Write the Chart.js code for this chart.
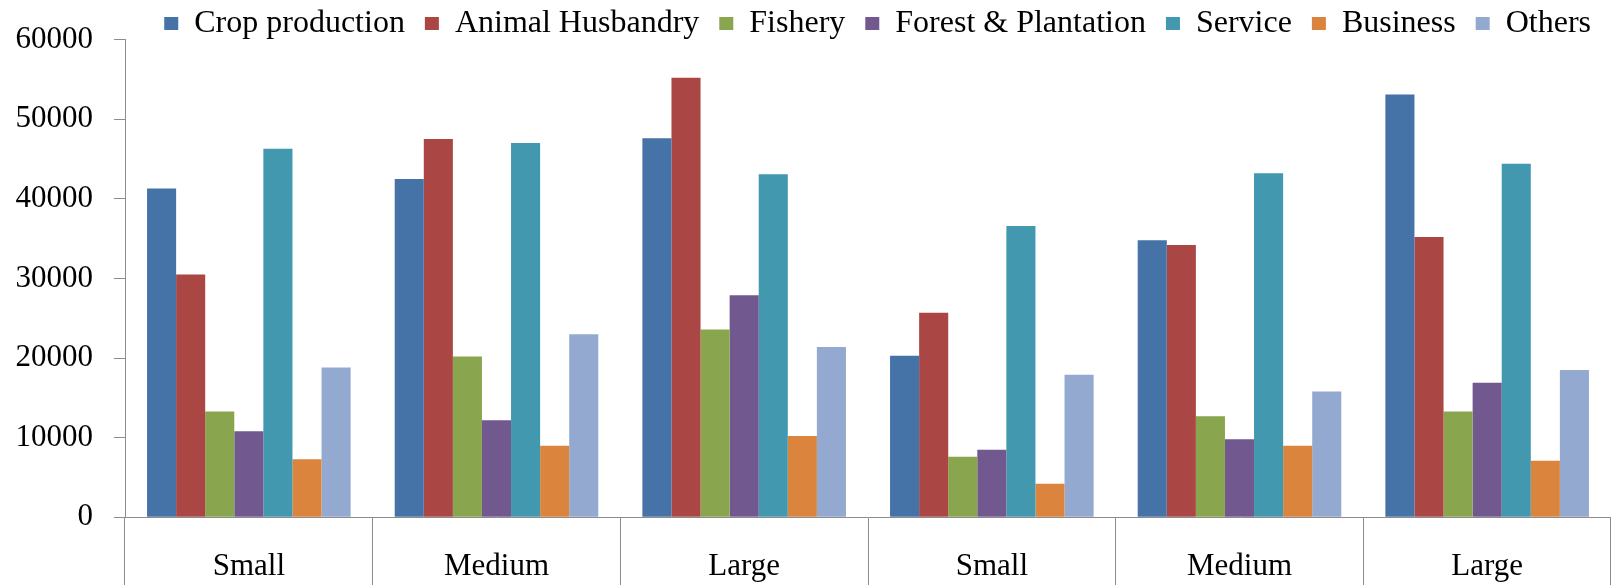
<!DOCTYPE html>
<html>
<head>
<meta charset="utf-8">
<script src="https://cdn.jsdelivr.net/npm/chart.js@4/dist/chart.umd.min.js"></script>
<style>
  html, body { margin: 0; padding: 0; background: #ffffff; }
  #wrap { width: 1611px; height: 585px; }
</style>
</head>
<body>
<div id="wrap"><canvas id="c" width="1611" height="585"></canvas></div>
<script>
// Farm size categories (two groups of Small / Medium / Large)
const categories = ['Small', 'Medium', 'Large', 'Small', 'Medium', 'Large'];

// Income by source
const cropProduction   = [41300, 42500, 47600, 20300, 34800, 53100];
const animalHusbandry  = [30500, 47500, 55200, 25700, 34200, 35200];
const fishery          = [13300, 20200, 23600,  7600, 12700, 13300];
const forestPlantation = [10800, 12200, 27900,  8500,  9800, 16900];
const service          = [46300, 47000, 43100, 36600, 43200, 44400];
const business         = [ 7300,  9000, 10200,  4200,  9000,  7100];
const others           = [18800, 23000, 21400, 17900, 15800, 18500];

// Value axis
const yMin = 0;
const yMax = 60000;
const yStep = 10000;

const seriesNames  = ['Crop production', 'Animal Husbandry', 'Fishery', 'Forest & Plantation', 'Service', 'Business', 'Others'];
const seriesValues = [cropProduction, animalHusbandry, fishery, forestPlantation, service, business, others];
const seriesColors = ['#4572A7', '#AA4643', '#89A54E', '#71588F', '#4198AF', '#DB843D', '#93A9CF'];

const axisColor = '#8c8c8c';
const fontFamily = '"Liberation Serif", "Times New Roman", serif';

// Keep the legend band to a fixed height so the plot starts right below it
const legendBand = {
  id: 'legendBand',
  beforeInit(chart) {
    const fit = chart.legend.fit;
    chart.legend.fit = function () {
      fit.call(this);
      this.height = 52;
    };
  }
};

new Chart(document.getElementById('c'), {
  type: 'bar',
  data: {
    labels: categories,
    datasets: seriesNames.map((name, i) => ({
      label: name,
      data: seriesValues[i],
      backgroundColor: seriesColors[i],
      borderWidth: 0,
      categoryPercentage: 0.822,
      barPercentage: 1.0
    }))
  },
  options: {
    responsive: false,
    animation: false,
    devicePixelRatio: 1,
    layout: { padding: { top: -14.5, left: 0, right: 0, bottom: 0 } },
    plugins: {
      tooltip: { enabled: false },
      legend: {
        position: 'top',
        align: 'end',
        labels: {
          boxWidth: 14,
          boxHeight: 13,
          padding: 20,
          color: '#000000',
          font: { family: fontFamily, size: 32 }
        }
      }
    },
    scales: {
      x: {
        offset: true,
        grid: {
          display: true,
          offset: true,
          drawOnChartArea: false,
          drawTicks: true,
          tickLength: 68,
          color: axisColor,
          lineWidth: 1
        },
        border: { display: true, color: axisColor, width: 1 },
        ticks: {
          color: '#000000',
          padding: -37,
          maxRotation: 0,
          autoSkip: false,
          font: { family: fontFamily, size: 31 }
        },
        afterFit(scale) { scale.height = 67.7; }
      },
      y: {
        min: yMin,
        max: yMax,
        grid: {
          display: true,
          drawOnChartArea: false,
          drawTicks: true,
          tickLength: 11,
          color: axisColor,
          lineWidth: 1
        },
        border: { display: true, color: axisColor, width: 1 },
        ticks: {
          stepSize: yStep,
          color: '#000000',
          padding: 21,
          font: { family: fontFamily, size: 31 },
          callback: (value) => String(value)
        },
        afterFit(scale) { scale.width = 125; }
      }
    }
  },
  plugins: [legendBand]
});
</script>
</body>
</html>
